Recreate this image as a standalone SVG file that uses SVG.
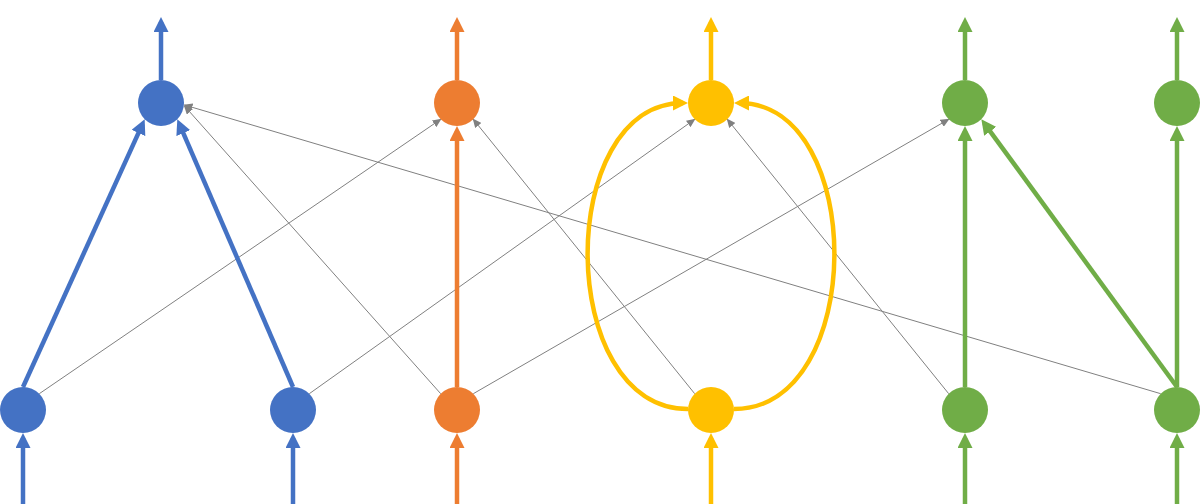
<svg xmlns="http://www.w3.org/2000/svg" width="1200" height="504" viewBox="0 0 1200 504">
<style>
.thin{stroke:#808080;stroke-width:1;fill:none;marker-end:url(#ag)}
.thk{stroke-width:4.5;fill:none}
.b{stroke:#4472C4;marker-end:url(#ab)}
.o{stroke:#ED7D31;marker-end:url(#ao)}
.y{stroke:#FFC000;marker-end:url(#ay)}
.g{stroke:#70AD47;marker-end:url(#agr)}
.nb{fill:#4472C4}.no{fill:#ED7D31}.ny{fill:#FFC000}.ng{fill:#70AD47}
</style>
<defs>
<marker id="ag" markerUnits="userSpaceOnUse" markerWidth="9" markerHeight="8" refX="8" refY="4" orient="auto"><path d="M0,0 L9,4 L0,8 z" fill="#808080"/></marker>
<marker id="ab" markerUnits="userSpaceOnUse" markerWidth="15" markerHeight="15" refX="10" refY="7.5" orient="auto"><path d="M0,0 L15,7.5 L0,15 z" fill="#4472C4"/></marker>
<marker id="ao" markerUnits="userSpaceOnUse" markerWidth="15" markerHeight="15" refX="10" refY="7.5" orient="auto"><path d="M0,0 L15,7.5 L0,15 z" fill="#ED7D31"/></marker>
<marker id="ay" markerUnits="userSpaceOnUse" markerWidth="15" markerHeight="15" refX="10" refY="7.5" orient="auto"><path d="M0,0 L15,7.5 L0,15 z" fill="#FFC000"/></marker>
<marker id="agr" markerUnits="userSpaceOnUse" markerWidth="15" markerHeight="15" refX="10" refY="7.5" orient="auto"><path d="M0,0 L15,7.5 L0,15 z" fill="#70AD47"/></marker>
</defs>
<g id="connectors">
<line class="thin" x1="39.3" y1="393.7" x2="440.7" y2="119.3"/>
<line class="thin" x1="309.3" y1="393.7" x2="694.7" y2="119.3"/>
<line class="thin" x1="440.7" y1="393.7" x2="184.5" y2="106"/>
<line class="thin" x1="473.3" y1="393.7" x2="948.7" y2="119.3"/>
<line class="thin" x1="694.7" y1="393.7" x2="473.3" y2="119.3"/>
<line class="thin" x1="948.7" y1="393.7" x2="727.3" y2="119.3"/>
<line class="thin" x1="1160.7" y1="393.7" x2="184.5" y2="105"/>
<line class="thk b" x1="161" y1="80" x2="161" y2="22"/>
<line class="thk o" x1="457" y1="80" x2="457" y2="22"/>
<line class="thk y" x1="711" y1="80" x2="711" y2="22"/>
<line class="thk g" x1="965" y1="80" x2="965" y2="22"/>
<line class="thk g" x1="1177" y1="80" x2="1177" y2="22"/>
<line class="thk b" x1="23" y1="504" x2="23" y2="438"/>
<line class="thk b" x1="293" y1="504" x2="293" y2="438"/>
<line class="thk o" x1="457" y1="504" x2="457" y2="438"/>
<line class="thk y" x1="711" y1="504" x2="711" y2="438"/>
<line class="thk g" x1="965" y1="504" x2="965" y2="438"/>
<line class="thk g" x1="1177" y1="504" x2="1177" y2="438"/>
<line class="thk b" x1="23" y1="387" x2="142.6" y2="123.9"/>
<line class="thk b" x1="293" y1="387" x2="179.3" y2="123.9"/>
<line class="thk o" x1="457" y1="387" x2="457" y2="131"/>
<line class="thk g" x1="965" y1="387" x2="965" y2="131"/>
<line class="thk g" x1="1177" y1="387" x2="1177" y2="131"/>
<line class="thk g" x1="1177" y1="387" x2="984.3" y2="123.3"/>
<path class="thk y" d="M688,409 C555,409 555,103 683,103"/>
<path class="thk y" d="M734,409 C867,409 867,103 739,103"/>
</g>
<g id="n-top-blue"><circle class="nb" cx="161" cy="103" r="23"/></g>
<g id="n-top-orange"><circle class="no" cx="457" cy="103" r="23"/></g>
<g id="n-top-yellow"><circle class="ny" cx="711" cy="103" r="23"/></g>
<g id="n-top-green1"><circle class="ng" cx="965" cy="103" r="23"/></g>
<g id="n-top-green2"><circle class="ng" cx="1177" cy="103" r="23"/></g>
<g id="n-bot-blue1"><circle class="nb" cx="23" cy="410" r="23"/></g>
<g id="n-bot-blue2"><circle class="nb" cx="293" cy="410" r="23"/></g>
<g id="n-bot-orange"><circle class="no" cx="457" cy="410" r="23"/></g>
<g id="n-bot-yellow"><circle class="ny" cx="711" cy="410" r="23"/></g>
<g id="n-bot-green1"><circle class="ng" cx="965" cy="410" r="23"/></g>
<g id="n-bot-green2"><circle class="ng" cx="1177" cy="410" r="23"/></g>
</svg>
